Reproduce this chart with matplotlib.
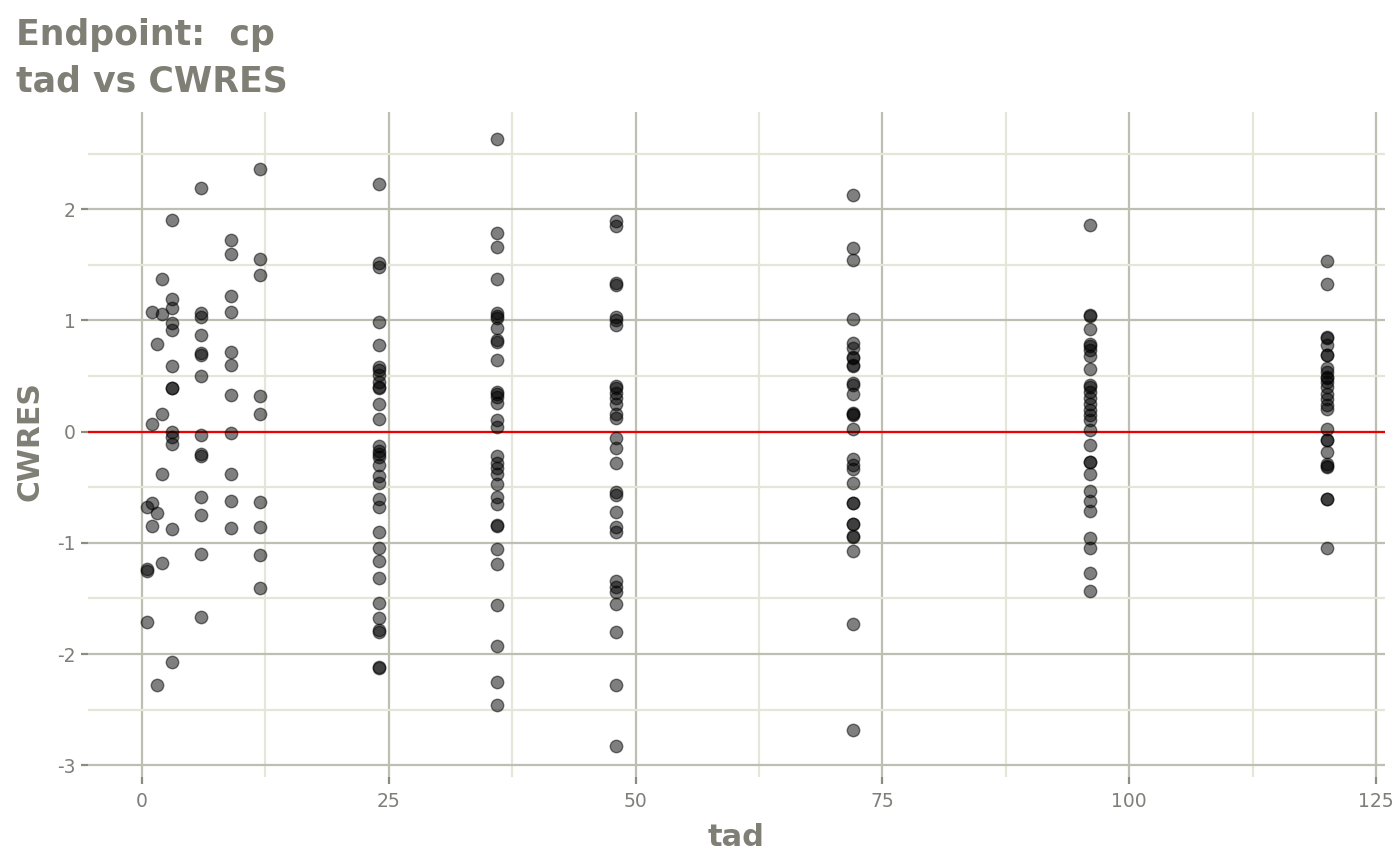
import matplotlib
matplotlib.use("Agg")
import matplotlib.pyplot as plt
import numpy as np

plt.rcParams['font.family'] = ['DejaVu Sans']
plt.rcParams['axes.unicode_minus'] = False

tad_levels = [0.5, 1, 1.5, 2, 3, 6, 9, 12, 24, 36, 48, 72, 96, 120]

cwres_t0_5 = [-0.68, -1.24, -1.25, -1.71]
cwres_t1 = [1.08, 0.07, -0.64, -0.85]
cwres_t1_5 = [0.79, -0.73, -2.28]
cwres_t2 = [1.37, 1.06, 0.16, -0.38, -1.18]
cwres_t3 = [1.90, 1.19, 1.11, 0.98, 0.91, 0.59, 0.39, 0.39, 0.0, -0.05, -0.11, -0.88, -2.07]
cwres_t6 = [2.19, 1.07, 1.03, 0.87, 0.71, 0.69, 0.50, -0.03, -0.20, -0.22, -0.59, -0.75, -1.10, -1.67]
cwres_t9 = [1.72, 1.60, 1.22, 1.08, 0.72, 0.60, 0.33, -0.01, -0.38, -0.62, -0.87]
cwres_t12 = [2.36, 1.55, 1.41, 0.32, 0.16, -0.63, -0.86, -1.11, -1.41]
cwres_t24 = [2.23, 1.52, 1.48, 0.99, 0.78, 0.58, 0.55, 0.51, 0.45, 0.40, 0.39, 0.25, 0.11,
             -0.13, -0.17, -0.20, -0.23, -0.30, -0.40, -0.46, -0.61, -0.68, -0.90, -1.05,
             -1.16, -1.32, -1.54, -1.68, -1.78, -1.80, -2.12, -2.13]
cwres_t36 = [2.63, 1.79, 1.66, 1.37, 1.07, 1.04, 1.02, 0.93, 0.82, 0.81, 0.64, 0.36, 0.34,
             0.31, 0.26, 0.10, 0.04, -0.22, -0.28, -0.33, -0.38, -0.47, -0.59, -0.65, -0.84,
             -0.85, -1.06, -1.19, -1.56, -1.93, -2.25, -2.46]
cwres_t48 = [1.89, 1.85, 1.34, 1.32, 1.03, 1.00, 0.96, 0.41, 0.39, 0.35, 0.30, 0.25, 0.16,
             0.12, -0.06, -0.15, -0.28, -0.54, -0.57, -0.72, -0.86, -0.90, -1.34, -1.40,
             -1.44, -1.55, -1.80, -2.28, -2.83]
cwres_t72 = [2.13, 1.65, 1.54, 1.01, 0.80, 0.75, 0.67, 0.66, 0.60, 0.59, 0.44, 0.42, 0.34,
             0.17, 0.16, 0.15, 0.02, -0.25, -0.30, -0.34, -0.46, -0.64, -0.64, -0.83, -0.83,
             -0.94, -0.95, -1.07, -1.73, -2.68]
cwres_t96 = [1.86, 1.05, 1.04, 0.92, 0.79, 0.77, 0.73, 0.68, 0.56, 0.42, 0.40, 0.36, 0.30,
             0.25, 0.19, 0.15, 0.10, 0.01, -0.12, -0.27, -0.27, -0.38, -0.53, -0.62, -0.71,
             -0.96, -1.05, -1.27, -1.43]
cwres_t120 = [1.53, 1.33, 0.85, 0.84, 0.78, 0.69, 0.69, 0.57, 0.54, 0.49, 0.48, 0.45, 0.40,
              0.34, 0.29, 0.24, 0.20, 0.02, -0.08, -0.08, -0.18, -0.29, -0.31, -0.32, -0.61,
              -0.61, -1.05]

cwres_groups = [cwres_t0_5, cwres_t1, cwres_t1_5, cwres_t2, cwres_t3, cwres_t6, cwres_t9,
                cwres_t12, cwres_t24, cwres_t36, cwres_t48, cwres_t72, cwres_t96, cwres_t120]

x_ticks = [0, 25, 50, 75, 100, 125]
x_tick_labels = ["0", "25", "50", "75", "100", "125"]
y_ticks = [-3, -2, -1, 0, 1, 2]
y_tick_labels = ["-3", "-2", "-1", "0", "1", "2"]

tad = np.concatenate([[t] * len(g) for t, g in zip(tad_levels, cwres_groups)])
cwres = np.concatenate(cwres_groups)

W, H = 1400, 865
fig = plt.figure(figsize=(W / 100, H / 100), dpi=100)
fig.patch.set_facecolor("white")
ax = fig.add_axes([88 / W, 1 - 777 / H, (1385 - 88) / W, (777 - 112) / H])
ax.set_facecolor("white")

major_c = "#BEBEB2"
minor_c = "#E5E5D9"
text_c = "#7F7F75"
tick_c = "#7F7F78"

ax.set_xlim(-5.47, 125.9)
ax.set_ylim(-3.106, 2.874)
ax.set_xticks(x_ticks)
ax.set_xticklabels(x_tick_labels)
ax.set_yticks(y_ticks)
ax.set_yticklabels(y_tick_labels)
ax.set_xticks([12.5, 37.5, 62.5, 87.5, 112.5], minor=True)
ax.set_yticks([-2.5, -1.5, -0.5, 0.5, 1.5, 2.5], minor=True)
ax.grid(True, which="major", color=major_c, linewidth=1.6, zorder=0)
ax.grid(True, which="minor", color=minor_c, linewidth=1.6, zorder=0)
ax.set_axisbelow(True)
for s in ax.spines.values():
    s.set_visible(False)
ax.tick_params(which="minor", length=0)
ax.tick_params(which="major", length=5, width=1.6, color="#8C8C84")
ax.tick_params(axis="x", pad=6, labelsize=13.5, labelcolor=tick_c)
ax.tick_params(axis="y", pad=4, labelsize=13.5, labelcolor=tick_c)

ax.axhline(0, color="#EE0000", linewidth=1.6, zorder=2)
ax.scatter(tad, cwres, s=80, facecolor=(0, 0, 0, 0.5), edgecolor=(0, 0, 0, 0.5),
           linewidth=1.0, zorder=3)

fig.text(16 / W, 1 - 45 / H, "Endpoint:  cp", fontsize=25, fontweight="bold",
         color=text_c, va="baseline", ha="left")
fig.text(16 / W, 1 - 92 / H, "tad vs CWRES", fontsize=25, fontweight="bold",
         color=text_c, va="baseline", ha="left")
fig.text((88 + 1385) / 2 / W, 1 - 846 / H, "tad", fontsize=22, fontweight="bold",
         color=text_c, va="baseline", ha="center")
fig.text(30 / W, 1 - 441 / H, "CWRES", fontsize=21.5, fontweight="bold",
         color=text_c, va="center", ha="center", rotation=90)

fig.savefig("out.png", dpi=100, facecolor="white")
